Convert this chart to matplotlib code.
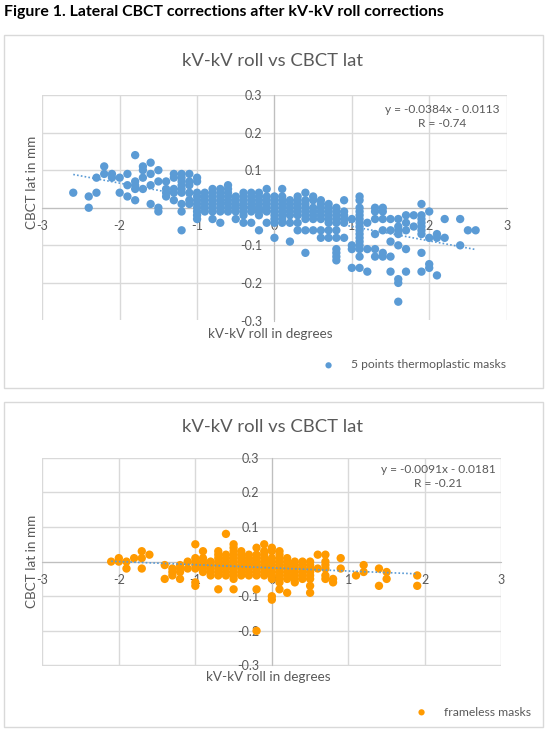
import numpy as np
import matplotlib.pyplot as plt
from matplotlib.patches import Rectangle

W, H = 547, 732

# 5 points thermoplastic masks: roll position (deg) -> CBCT lateral shifts (mm)
thermo_roll = [-2.6, -2.4, -2.3, -2.2, -2.1, -2.0, -1.9, -1.8, -1.7, -1.6, -1.5, -1.4, -1.3,
               -1.2, -1.1, -1.0, -0.9, -0.8, -0.7, -0.6, -0.5, -0.4, -0.3, -0.2, -0.1, 0.0,
               0.1, 0.2, 0.3, 0.4, 0.5, 0.6, 0.7, 0.8, 0.9, 1.0, 1.1, 1.2, 1.3, 1.4, 1.5,
               1.6, 1.7, 1.8, 1.9, 2.0, 2.1, 2.2, 2.4, 2.5, 2.6]
thermo_lat = [
    [0.04], [0.03, 0.0], [0.08, 0.04], [0.11, 0.09], [0.09, 0.08], [0.08, 0.04],
    [0.09, 0.06, 0.03], [0.14, 0.07, 0.06, 0.05, 0.02], [0.11, 0.10, 0.08, 0.05],
    [0.12, 0.09, 0.06, 0.01], [0.10, 0.07, 0.0, -0.01], [0.07, 0.05, 0.04, 0.03],
    [0.09, 0.08, 0.05, 0.04, 0.02],
    [0.09, 0.08, 0.07, 0.06, 0.05, 0.04, 0.01, -0.01, -0.06],
    [0.09, 0.07, 0.06, 0.04, 0.02, 0.01],
    [0.08, 0.07, 0.04, 0.03, 0.02, 0.01, 0.0, -0.01, -0.02, -0.03],
    [0.04, 0.03, 0.02, 0.01, 0.0, -0.01],
    [0.05, 0.04, 0.03, 0.02, 0.01, 0.0, -0.01, -0.03],
    [0.05, 0.04, 0.03, 0.02, 0.01, 0.0, -0.01, -0.04],
    [0.06, 0.05, 0.04, 0.03, 0.02, 0.01, 0.0, -0.01],
    [0.03, 0.02, 0.01, 0.0, -0.01, -0.03],
    [0.04, 0.03, 0.02, 0.01, 0.0, -0.01, -0.02, -0.04],
    [0.04, 0.03, 0.02, 0.01, 0.0, -0.01, -0.04],
    [0.04, 0.03, 0.02, 0.01, 0.0, -0.01, -0.02, -0.06],
    [0.05, 0.03, 0.02, 0.01, 0.0, -0.01, -0.04],
    [0.03, 0.02, 0.01, 0.0, -0.01, -0.02, -0.03, -0.04, -0.08],
    [0.05, 0.03, 0.02, 0.01, 0.0, -0.01, -0.02, -0.03, -0.04],
    [0.02, 0.01, 0.0, -0.01, -0.02, -0.04, -0.09],
    [0.03, 0.02, 0.01, 0.0, -0.01, -0.02, -0.04, -0.06],
    [0.04, 0.02, 0.01, 0.0, -0.01, -0.02, -0.03, -0.06, -0.12],
    [0.03, 0.02, 0.0, -0.01, -0.02, -0.03, -0.06],
    [0.02, 0.01, 0.0, -0.01, -0.02, -0.03, -0.06, -0.08],
    [0.01, 0.0, -0.01, -0.02, -0.03, -0.04, -0.06, -0.08],
    [0.0, -0.01, -0.02, -0.03, -0.04, -0.06, -0.08, -0.11, -0.12, -0.13, -0.14],
    [0.02, -0.01, -0.02, -0.03, -0.04, -0.08],
    [-0.03, -0.10, -0.11, -0.16],
    [0.03, 0.02, 0.0, -0.01, -0.02, -0.03, -0.04, -0.05, -0.06, -0.07, -0.08, -0.09,
     -0.10, -0.11, -0.13, -0.16],
    [-0.04, -0.11, -0.17],
    [0.0, -0.01, -0.03, -0.07, -0.11, -0.13],
    [0.0, -0.01, -0.03, -0.06, -0.12, -0.13],
    [-0.03, -0.06, -0.09, -0.13, -0.17],
    [-0.03, -0.05, -0.06, -0.07, -0.10, -0.19, -0.20, -0.25],
    [-0.02, -0.04, -0.06, -0.11, -0.17],
    [-0.02, -0.05],
    [0.01, -0.02, -0.03, -0.04, -0.05, -0.06, -0.07, -0.12, -0.17],
    [-0.01, -0.08, -0.15, -0.16],
    [-0.07, -0.08, -0.18],
    [-0.03, -0.08],
    [-0.03, -0.10],
    [-0.06],
    [-0.06],
]
thermo_fit = (-0.0384, -0.0113)
thermo_r = -0.74

# frameless masks
frameless_roll = [-2.1, -2.0, -1.9, -1.8, -1.7, -1.6, -1.4, -1.3, -1.2, -1.1, -1.0, -0.9,
                  -0.8, -0.7, -0.6, -0.5, -0.4, -0.3, -0.2, -0.1, 0.0, 0.1, 0.2, 0.3, 0.4,
                  0.5, 0.6, 0.7, 0.8, 0.9, 1.1, 1.2, 1.4, 1.5, 1.9]
frameless_lat = [
    [0.0], [0.01, 0.0], [0.0, -0.02], [0.01], [0.03, 0.01, -0.02], [0.02],
    [-0.01, -0.05], [-0.02, -0.03, -0.04], [-0.01, -0.02, -0.03, -0.05], [0.0, -0.02],
    [0.05, 0.01, 0.0, -0.01, -0.02, -0.06, -0.07],
    [0.03, 0.01, 0.0, -0.01, -0.02, -0.03],
    [0.0, -0.01, -0.02, -0.03, -0.04],
    [0.03, 0.02, 0.01, 0.0, -0.01, -0.02, -0.03, -0.04, -0.08],
    [0.08, 0.02, 0.01, 0.0, -0.01, -0.02, -0.03, -0.04],
    [0.05, 0.04, 0.03, 0.02, 0.01, 0.0, -0.01, -0.02, -0.03, -0.04, -0.05, -0.08],
    [0.03, 0.02, 0.01, 0.0, -0.01, -0.02, -0.03, -0.04],
    [0.02, 0.01, 0.0, -0.01, -0.02, -0.03, -0.04],
    [0.04, 0.02, 0.01, 0.0, -0.01, -0.02, -0.03, -0.04, -0.08, -0.20],
    [0.05, 0.03, 0.02, 0.01, 0.0, -0.01, -0.02, -0.03, -0.04],
    [0.04, 0.03, 0.01, 0.0, -0.01, -0.02, -0.03, -0.04, -0.05, -0.10, -0.11],
    [0.03, 0.02, 0.01, 0.0, -0.01, -0.02, -0.03, -0.04, -0.05, -0.06, -0.08],
    [0.01, 0.0, -0.01, -0.02, -0.03, -0.04, -0.05, -0.09],
    [0.0, -0.01, -0.02, -0.03, -0.04, -0.05, -0.06],
    [0.0, -0.01, -0.02, -0.03, -0.04, -0.05],
    [0.0, -0.01, -0.02, -0.03, -0.04, -0.05, -0.07, -0.09],
    [0.02, -0.02],
    [0.02, 0.0, -0.01, -0.02, -0.04, -0.05],
    [-0.05, -0.06],
    [0.01, -0.02],
    [-0.04],
    [-0.01, -0.03],
    [-0.02, -0.07],
    [-0.03, -0.05],
    [-0.04, -0.07],
]
frameless_fit = (-0.0091, -0.0181)
frameless_r = -0.21

x_ticks = [-3, -2, -1, 0, 1, 2, 3]
y_ticks = [-0.3, -0.2, -0.1, 0, 0.1, 0.2, 0.3]

GREY = '#595959'
GRID = '#D9D9D9'
plt.rcParams['font.family'] = ['Lato', 'DejaVu Sans']

fig = plt.figure(figsize=(W / 100, H / 100), dpi=100)


def fx(px):
    return px / W


def fy(py):
    return 1 - py / H


def panel(box, plot, roll, lat, fit, r, color, label, eq_xy, xlab_y, ylab_y, leg_xy):
    # outer chart frame
    fig.add_artist(Rectangle((fx(box[0]), fy(box[3])), fx(box[2] - box[0]), (box[3] - box[1]) / H,
                             transform=fig.transFigure, fill=False, edgecolor=GRID, lw=1))
    l, t, rr, b = plot
    ax = fig.add_axes([fx(l), fy(b), fx(rr - l), (b - t) / H])
    xs = np.concatenate([[x] * len(v) for x, v in zip(roll, lat)])
    ys = np.concatenate(lat)
    sc = ax.scatter(xs, ys, s=36, color=color, edgecolors='none', zorder=3, label=label)
    xl = np.array([min(roll), max(roll)])
    ax.plot(xl, fit[0] * xl + fit[1], ls=(0, (1, 1.3)), color='#5B9BD5', lw=1.2, zorder=4)

    ax.set_xlim(-3, 3)
    ax.set_ylim(-0.3, 0.3)
    ax.set_xticks(x_ticks)
    ax.set_yticks(y_ticks)
    ax.set_xticklabels([f'{v:g}' for v in x_ticks])
    ax.set_yticklabels([f'{v:g}' for v in y_ticks])
    ax.grid(True, color=GRID, lw=1)
    ax.set_axisbelow(True)
    for s in ['top', 'right']:
        ax.spines[s].set_visible(False)
    ax.spines['left'].set_position('zero')
    ax.spines['bottom'].set_position('zero')
    ax.spines['left'].set_color('#BFBFBF')
    ax.spines['bottom'].set_color('#BFBFBF')
    ax.tick_params(length=0, labelsize=9, labelcolor=GREY)
    ax.tick_params(axis='y', pad=9)
    ax.tick_params(axis='x', pad=9)
    ax.patch.set_alpha(0)

    fig.text(fx(l + (rr - l) / 2 - 4), fy(xlab_y), 'kV-kV roll in degrees', ha='center', va='center',
             fontsize=9.7, color=GREY)
    fig.text(fx(31.5), fy(ylab_y), 'CBCT lat in mm', ha='center', va='center', rotation=90,
             fontsize=9.7, color=GREY)
    fig.text(fx(eq_xy[0]), fy(eq_xy[1]),
             f'y = {fit[0]:.4f}x - {abs(fit[1]):.4f}\nR = {r:.2f}',
             ha='center', va='top', multialignment='center', fontsize=8.6, color=GREY,
             linespacing=1.35)
    fig.legend(handles=[sc], loc='center left', bbox_to_anchor=(fx(leg_xy[0]), fy(leg_xy[1])),
               frameon=False, fontsize=8.7, labelcolor=GREY, markerscale=0.75,
               handlelength=1.0, handletextpad=1.35, borderpad=0, borderaxespad=0)
    return ax


fig.text(fx(3.5), fy(12), 'Figure 1. Lateral CBCT corrections after kV-kV roll corrections',
         ha='left', va='center', fontsize=11.4, fontweight='bold', color='black')

ax1 = panel((3.5, 35, 543, 388), (42.3, 95, 506.6, 320.5), thermo_roll, thermo_lat,
            thermo_fit, thermo_r, '#5B9BD5', '5 points thermoplastic masks',
            (442, 104), 334, 182, (322.5, 365))
fig.text(fx(272), fy(61), 'kV-kV roll vs CBCT lat', ha='center', va='center', fontsize=13.3, color=GREY)

ax2 = panel((3.5, 402, 543, 727), (42.3, 457.7, 501.4, 665.5), frameless_roll, frameless_lat,
            frameless_fit, frameless_r, '#FF9A00', 'frameless masks',
            (438, 464), 677, 561, (415.5, 712))
fig.text(fx(272), fy(427), 'kV-kV roll vs CBCT lat', ha='center', va='center', fontsize=13.3, color=GREY)

fig.savefig('out.png', dpi=100)
